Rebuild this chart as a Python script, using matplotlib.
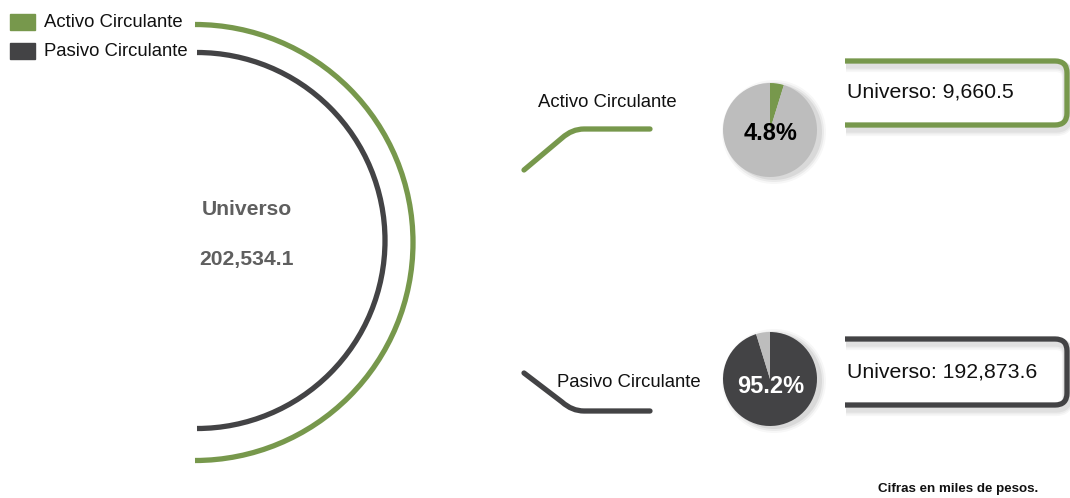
import numpy as np
import matplotlib
matplotlib.use("Agg")
import matplotlib.pyplot as plt
from matplotlib.path import Path
from matplotlib.patches import PathPatch, Circle, Rectangle, Arc

plt.rcParams['font.family'] = ['Liberation Sans', 'DejaVu Sans']

# data (miles de pesos)
categorias = ["Activo Circulante", "Pasivo Circulante"]
montos = [9660.5, 192873.6]
total = 202534.1
colores = ["#77984c", "#434345"]
gris = "#bdbdbd"

W, H = 1070, 498
fig = plt.figure(figsize=(W / 100, H / 100), dpi=100)
ax = fig.add_axes([0, 0, 1, 1])
ax.set_xlim(0, W)
ax.set_ylim(H, 0)
ax.axis('off')

lw = 3.8

# legend
for i, (cat, col) in enumerate(zip(categorias, colores)):
    y = 22 + 29 * i
    ax.add_patch(Rectangle((10, y - 8), 25, 16, color=col))
    ax.text(44, y, cat, fontsize=13.3, va='center', ha='left', color='#111111')

# big arcs
ax.add_patch(Arc((195, 242.5), 2 * 218, 2 * 218, theta1=-90, theta2=90,
                 color=colores[0], lw=lw))
ax.add_patch(Arc((197, 240.5), 2 * 188, 2 * 188, theta1=-90, theta2=90,
                 color=colores[1], lw=lw))

ax.text(247, 209, "Universo", fontsize=15.2, fontweight='bold', color='#5f5f5f',
        ha='center', va='center')
ax.text(247, 259, f"{total:,.1f}", fontsize=15.2, fontweight='bold', color='#5f5f5f',
        ha='center', va='center')


def conector(y0, y1, col):
    # diagonal then rounded bend to horizontal
    d = 1 if y1 < y0 else -1
    verts = [(524, y0), (562, y1 + d * 9), (572, y1), (584, y1), (650, y1)]
    codes = [Path.MOVETO, Path.LINETO, Path.CURVE3, Path.LINETO, Path.LINETO]
    ax.add_patch(PathPatch(Path(verts, codes), fill=False, ec=col, lw=lw,
                           capstyle='round', joinstyle='round'))


def caja(y0, y1, col):
    x0, x1, r = 845, 1067, 12
    verts = [(x0, y0), (x1 - r, y0), (x1, y0), (x1, y0 + r), (x1, y1 - r),
             (x1, y1), (x1 - r, y1), (x0, y1)]
    codes = [Path.MOVETO, Path.LINETO, Path.CURVE3, Path.CURVE3, Path.LINETO,
             Path.CURVE3, Path.CURVE3, Path.LINETO]
    # soft shadow
    for k, a in [(5, 0.03), (4, 0.04), (3, 0.05)]:
        sv = [(x + 1, y + k) for x, y in verts]
        ax.add_patch(PathPatch(Path(sv, codes), fill=False, ec='black', lw=lw + k,
                               alpha=a, capstyle='butt'))
    ax.add_patch(PathPatch(Path(verts, codes), fill=False, ec=col, lw=lw,
                           capstyle='butt', joinstyle='round'))


conector(170, 129, colores[0])
conector(373, 411, colores[1])
ax.text(607, 102, categorias[0], fontsize=13.3, ha='center', va='center', color='#111111')
ax.text(629, 382, categorias[1], fontsize=13.3, ha='center', va='center', color='#111111')

caja(61, 125, colores[0])
caja(339, 405, colores[1])
ax.text(847, 92, f"Universo: {montos[0]:,.1f}", fontsize=15.3, ha='left', va='center',
        color='#111111')
ax.text(847, 372, f"Universo: {montos[1]:,.1f}", fontsize=15.3, ha='left', va='center',
        color='#111111')

# pies
centros = [(770, 130), (770, 379)]
R = 47
offs = [-0.085, -0.17]
for i, (cx, cy) in enumerate(centros):
    for k, a in [(7, 0.03), (5, 0.05), (3, 0.07)]:
        ax.add_patch(Circle((cx + 4, cy + 2), R + k - 2, color='black', alpha=a, lw=0))
    pax = fig.add_axes([(cx - R) / W, 1 - (cy + R) / H, 2 * R / W, 2 * R / H])
    pct = montos[i] / total * 100
    pax.pie([pct, 100 - pct], colors=[colores[i], gris], startangle=90,
            counterclock=False, radius=1.0)
    pax.set_xlim(-1, 1)
    pax.set_ylim(-1, 1)
    pax.set_aspect('equal')
    pax.axis('off')
    tcol = 'black' if i == 0 else 'white'
    pax.text(0.02, offs[i], f"{pct:.1f}%",
             fontsize=17, fontweight='bold', color=tcol, ha='center', va='center')

ax.text(958, 489, "Cifras en miles de pesos.", fontsize=9.6, fontweight='bold',
        ha='center', va='center', color='#111111')

fig.savefig("out.png", dpi=100)
